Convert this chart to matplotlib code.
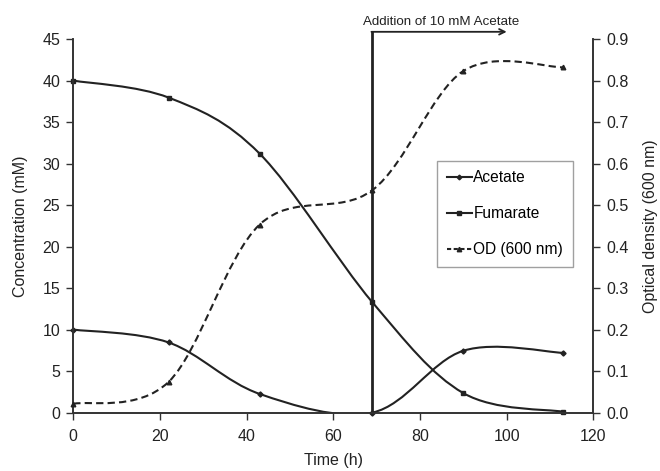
import numpy as np
import matplotlib
matplotlib.use('Agg')
import matplotlib.pyplot as plt
from matplotlib.path import Path
from matplotlib.patches import PathPatch
from matplotlib.lines import Line2D
import matplotlib.transforms as mtransforms

plt.rcParams['font.family'] = ['Liberation Sans', 'DejaVu Sans']

# data
time_h = [0, 22, 43, 69, 90, 113]
acetate = [10.0, 8.45, 2.25, 0.0, 7.45, 7.2]
fumarate = [40.0, 37.95, 31.2, 13.3, 2.35, 0.1]
od600 = [0.021, 0.074, 0.453, 0.536, 0.823, 0.832]

ink = '#222222'


def smooth_path(x, y):
	# Excel style smoothed line: cubic bezier through the points
	x = np.asarray(x, float)
	y = np.asarray(y, float)
	pts = np.column_stack([x, y])
	n = len(pts)
	verts = [pts[0]]
	codes = [Path.MOVETO]
	for i in range(n - 1):
		p0 = pts[i - 1] if i > 0 else pts[i]
		p1 = pts[i]
		p2 = pts[i + 1]
		p3 = pts[i + 2] if i + 2 < n else pts[i + 1]
		c1 = p1 + (p2 - p0) / 6.0
		c2 = p2 - (p3 - p1) / 6.0
		verts += [c1, c2, p2]
		codes += [Path.CURVE4] * 3
	return Path(verts, codes)


fig = plt.figure(figsize=(6.6, 4.71), dpi=100)
ax = fig.add_axes([0.111, 0.124, 0.788, 0.793])
ax2 = ax.twinx()

ax.set_xlim(0, 120)
ax.set_ylim(0, 45)
ax2.set_ylim(0, 0.9)

ax.add_patch(PathPatch(smooth_path(time_h, acetate), fill=False, edgecolor=ink, lw=1.5))
ax.add_patch(PathPatch(smooth_path(time_h, fumarate), fill=False, edgecolor=ink, lw=1.5))
ax2.add_patch(PathPatch(smooth_path(time_h, od600), fill=False, edgecolor=ink, lw=1.5,
	linestyle=(0, (3.5, 2))))

ax.plot(time_h, acetate, ls='none', marker='D', ms=2.6, color=ink, clip_on=False, zorder=3)
ax.plot(time_h, fumarate, ls='none', marker='s', ms=3.3, color=ink, clip_on=False, zorder=3)
ax2.plot(time_h, od600, ls='none', marker='^', ms=3.3, color=ink, clip_on=False, zorder=3)

# ticks and spines
for a in (ax, ax2):
	a.spines['top'].set_visible(False)
	for s in a.spines.values():
		s.set_color('#333333')
		s.set_linewidth(1.2)
	a.tick_params(colors='#333333', labelcolor='#222222', labelsize=11.5, length=5, width=1,
		pad=4.5)
ax.tick_params(axis='x', pad=7)

ax.set_xticks([0, 20, 40, 60, 80, 100, 120])
ax.set_yticks(np.arange(0, 46, 5))
ax2.set_yticks(np.arange(0, 0.91, 0.1))
ax2.set_yticklabels(['%.1f' % v for v in np.arange(0, 0.91, 0.1)])

ax.set_xlabel('Time (h)', fontsize=11.5, color='#222222', labelpad=6)
ax.set_ylabel('Concentration (mM)', fontsize=11.5, color='#222222', labelpad=10)
ax2.set_ylabel('Optical density (600 nm)', fontsize=11.5, color='#222222', labelpad=10)

# addition of acetate marker
trans = mtransforms.blended_transform_factory(ax.transData, ax.transAxes)
ax.plot([69, 69], [0, 1.0195], transform=trans, color=ink, lw=2.0, clip_on=False, zorder=4)
ax.annotate('', xy=(100, 1.0195), xytext=(68.8, 1.0195), xycoords=trans, textcoords=trans,
	arrowprops=dict(arrowstyle='->', color=ink, lw=1.3, shrinkA=0, shrinkB=0))
ax.text(84.8, 1.046, 'Addition of 10 mM Acetate', transform=trans, ha='center', va='center',
	fontsize=9.6, color='#222222')

handles = [
	Line2D([], [], color=ink, lw=1.5, marker='D', ms=2.4),
	Line2D([], [], color=ink, lw=1.5, marker='s', ms=3.2),
	Line2D([], [], color=ink, lw=1.5, ls=(0, (2, 1.2)), marker='^', ms=3.2),
]
leg = ax2.legend(handles, ['Acetate', 'Fumarate', 'OD (600 nm)'], loc='upper left',
	bbox_to_anchor=(0.70, 0.674), fontsize=11.2, frameon=True, fancybox=False,
	handlelength=1.6, handletextpad=0.1, labelspacing=1.34, borderpad=0.62, borderaxespad=0)
leg.get_frame().set_edgecolor('#888888')
leg.get_frame().set_linewidth(1.0)

fig.savefig('out.png', dpi=100)
